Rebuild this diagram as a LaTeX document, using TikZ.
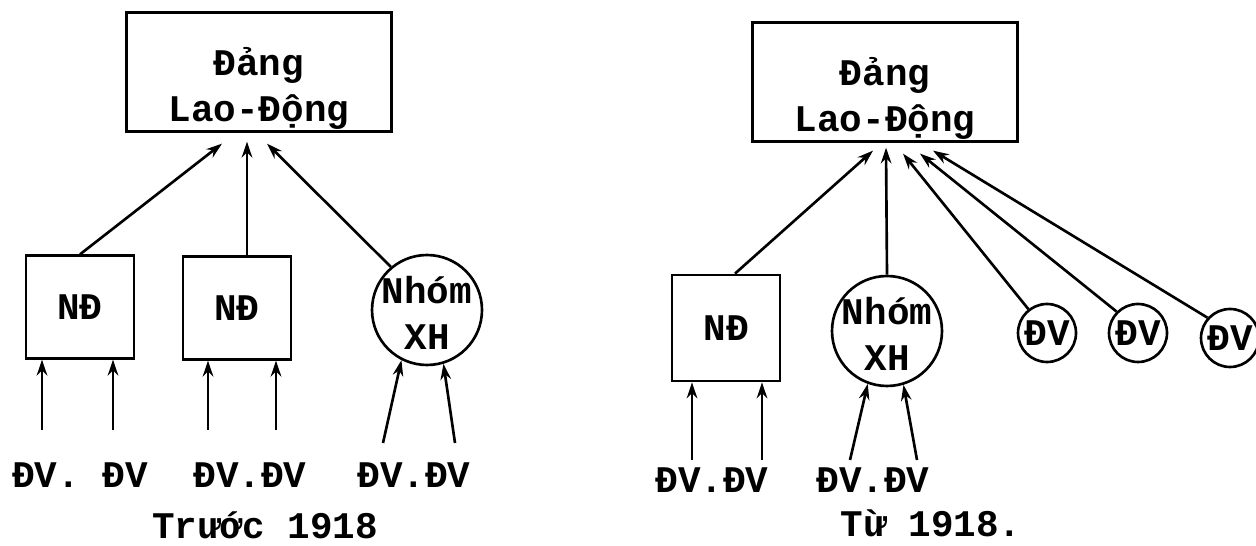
\documentclass[tikz,border=0pt]{standalone}
\usepackage{fontspec}
\newfontfamily\tyfont{Liberation Mono}
\usetikzlibrary{shapes.geometric,arrows.meta}
\tikzset{
  party/.style={draw, line width=1.6pt, align=center, minimum width=5.3cm, minimum height=2.37cm, inner sep=0pt, text height=56pt, text depth=0pt},
  unit/.style={draw, line width=1.6pt, align=center, minimum width=2.16cm, minimum height=2.05cm, inner sep=0pt},
  grp/.style={draw, circle, line width=1.5pt, align=center, minimum size=2.2cm, inner sep=-4pt, text height=45pt, text depth=-27pt},
  mem/.style={draw, circle, line width=1.5pt, minimum size=1.16cm, inner sep=0pt},
  lbl/.style={inner sep=0pt},
  arr/.style={-{Stealth[length=9pt,width=6pt]}, line width=1.5pt}
}

\begin{document}
\begin{tikzpicture}[x=0.02cm, y=-0.02cm, font=\tyfont\bfseries\fontsize{21.4pt}{26pt}\selectfont]
  \useasboundingbox (0,0) rectangle (1256,546);
  \node[party] (top1) at (259,72) {Đảng\\Lao-Động};
  \node[unit] (nd1) at (80,307) {NĐ};
  \node[unit] (nd2) at (237,308) {NĐ};
  \node[grp] (grp1) at (427,310) {Nhóm\\XH};
  \node[lbl] (m1) at (80,475) {ĐV. ĐV};
  \node[lbl] (m2) at (250,475) {ĐV.ĐV};
  \node[lbl] (m3) at (414,475) {ĐV.ĐV};
  \node[lbl] (cap1) at (265,525) {Trước 1918};
  \draw[arr] (nd1.north) -- ([shift={(-37,11)}]top1.south);
  \draw[arr] ([shift={(10,0)}]nd2.north) -- ([shift={(-12,9)}]top1.south);
  \draw[arr] (grp1.130) -- ([shift={(8,11)}]top1.south);
  \draw[arr] ([shift={(-38,-45)}]m1.center) -- ([shift={(-38,0)}]nd1.south);
  \draw[arr] ([shift={(33,-45)}]m1.center) -- ([shift={(33,0)}]nd1.south);
  \draw[arr] ([shift={(-42,-45)}]m2.center) -- ([shift={(-29,0)}]nd2.south);
  \draw[arr] ([shift={(26,-45)}]m2.center) -- ([shift={(39,0)}]nd2.south);
  \draw[arr] ([shift={(-31,-32)}]m3.center) -- (grp1.243);
  \draw[arr] ([shift={(41,-32)}]m3.center) -- (grp1.287);

  \node[party] (top2) at (885,82) {Đảng\\Lao-Động};
  \node[unit, minimum height=2.12cm] (nd3) at (726,328) {NĐ};
  \node[grp] (grp2) at (887,331) {Nhóm\\XH};
  \node[mem] (c1) at (1047,333) {ĐV};
  \node[mem] (c2) at (1138,333) {ĐV};
  \node[mem] (c3) at (1230,338) {ĐV};
  \node[lbl] (m4) at (712,480) {ĐV.ĐV};
  \node[lbl] (m5) at (873,480) {ĐV.ĐV};
  \node[lbl] (cap2) at (931,523) {Từ 1918.};
  \draw[arr] ([shift={(9,0)}]nd3.north) -- ([shift={(-12,8)}]top2.south);
  \draw[arr] (grp2.north) -- ([shift={(1,5)}]top2.south);
  \draw[arr] (c1.128) -- ([shift={(18,11)}]top2.south);
  \draw[arr] (c2.135) -- ([shift={(35,11)}]top2.south);
  \draw[arr] (c3.138) -- ([shift={(48,8)}]top2.south);
  \draw[arr] ([shift={(-20,-20)}]m4.center) -- ([shift={(-34,0)}]nd3.south);
  \draw[arr] ([shift={(50,-20)}]m4.center) -- ([shift={(36,0)}]nd3.south);
  \draw[arr] ([shift={(-23,-20)}]m5.center) -- (grp2.250);
  \draw[arr] ([shift={(44,-20)}]m5.center) -- (grp2.287);
\end{tikzpicture}
\end{document}
